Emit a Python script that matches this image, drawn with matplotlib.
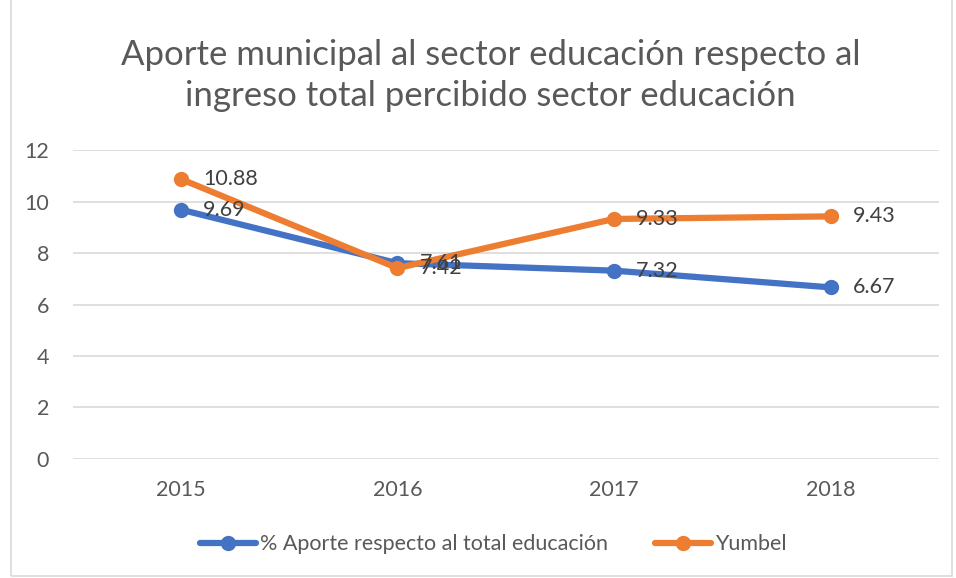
import matplotlib.pyplot as plt
from matplotlib.patches import Rectangle

# Data
years = ['2015', '2016', '2017', '2018']
aporte = [9.69, 7.61, 7.32, 6.67]
yumbel = [10.88, 7.42, 9.33, 9.43]
yticks = [0, 2, 4, 6, 8, 10, 12]

blue = '#4472C4'
orange = '#ED7D31'
txt = '#595959'

plt.rcParams['font.family'] = ['Lato', 'DejaVu Sans']

fig = plt.figure(figsize=(9.56, 5.78), dpi=100)
ax = fig.add_axes([0.076, 0.206, 0.906, 0.534])

x = list(range(len(years)))
ax.plot(x, aporte, color=blue, lw=4.5, marker='o', ms=10, solid_capstyle='round',
        label='% Aporte respecto al total educación', zorder=3)
ax.plot(x, yumbel, color=orange, lw=4.5, marker='o', ms=10, solid_capstyle='round',
        label='Yumbel', zorder=4)

for xi, v in zip(x, aporte):
    ax.annotate(f'{v:.2f}', (xi, v), xytext=(16, 0), textcoords='offset points',
                va='center', ha='left', fontsize=15.5, color='#404040', zorder=5)
for xi, v in zip(x, yumbel):
    ax.annotate(f'{v:.2f}', (xi, v), xytext=(16, 0), textcoords='offset points',
                va='center', ha='left', fontsize=15.5, color='#404040', zorder=5)

ax.set_xlim(-0.5, 3.5)
ax.set_ylim(0, 12)
ax.set_xticks(x)
ax.set_xticklabels(years)
ax.set_yticks(yticks)
ax.grid(axis='y', color='#D9D9D9', lw=1.2)
ax.set_axisbelow(True)
for s in ax.spines.values():
    s.set_visible(False)
ax.tick_params(length=0, labelsize=15.5, colors=txt, pad=15)
ax.tick_params(axis='y', pad=17)

fig.text(0.513, 0.87, 'Aporte municipal al sector educación respecto al\ningreso total percibido sector educación',
         ha='center', va='center', fontsize=25, color=txt, linespacing=1.35)

leg = fig.legend(loc='center', bbox_to_anchor=(0.516, 0.058), ncol=2, frameon=False,
                 fontsize=15.5, handlelength=2.6, columnspacing=2.2, handletextpad=0.2)
for t in leg.get_texts():
    t.set_color(txt)

fig.patches.append(Rectangle((0.011, 0.004), 0.985, 1.2, transform=fig.transFigure,
                             fill=False, edgecolor='#D9D9D9', lw=1.2))

fig.savefig('out.png', dpi=100)
